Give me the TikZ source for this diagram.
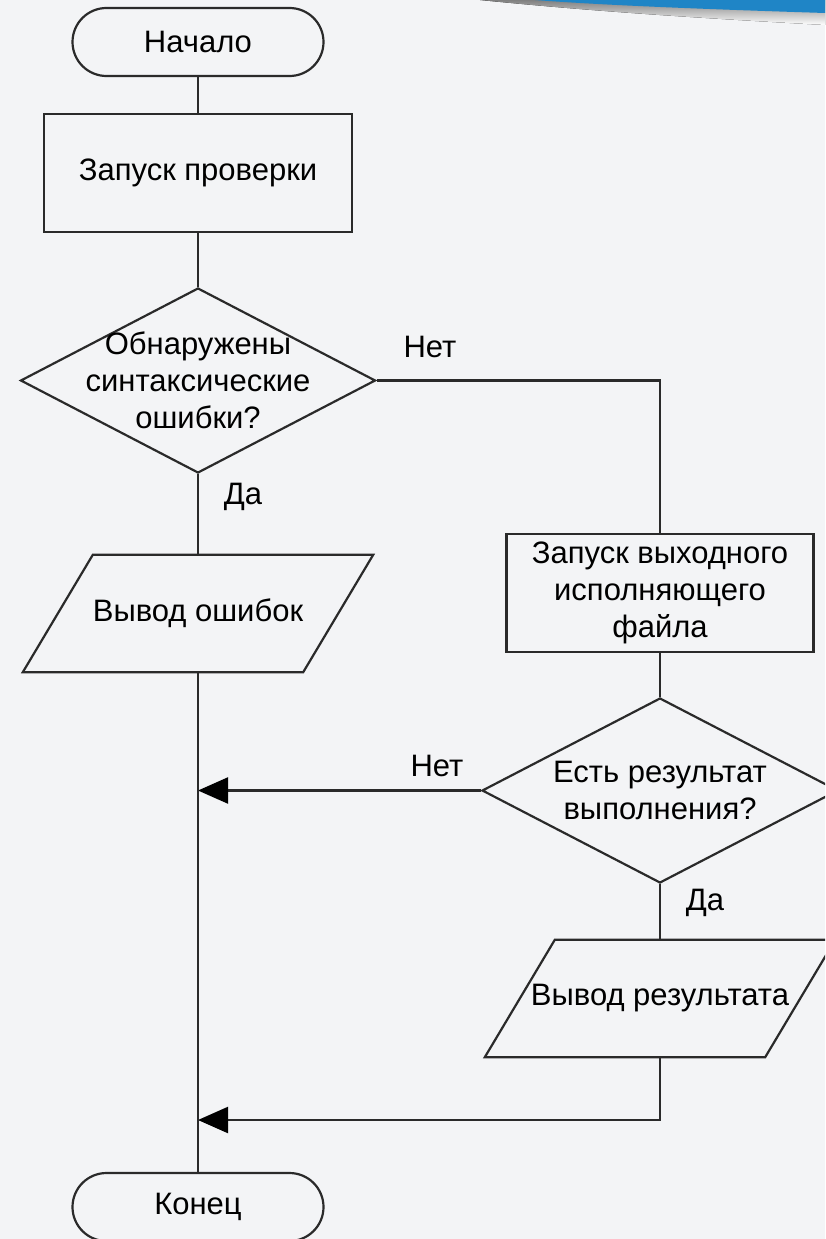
\documentclass[tikz,border=0pt]{standalone}
\usepackage{fontspec}
\setmainfont{Liberation Sans}
\usetikzlibrary{shapes.geometric,arrows.meta,calc}
\definecolor{bg}{HTML}{F3F4F6}
\definecolor{ln}{HTML}{2A2A2A}
\definecolor{band}{HTML}{1F85C6}
\definecolor{shade}{HTML}{DFE0E3}
\begin{document}
\begin{tikzpicture}[x=1pt,y=-1pt,
  every node/.style={font=\fontsize{31}{37}\selectfont, text=black},
  line/.style={draw=ln, line width=2.2pt},
  term/.style={line, rectangle, rounded corners=34pt, minimum width=251pt, minimum height=68pt, inner sep=0pt},
  proc/.style={line, rectangle, minimum height=118pt, inner sep=0pt, align=center},
  dec/.style={line, diamond, inner sep=0pt, minimum height=185pt},
  io/.style={rectangle, minimum width=280pt, minimum height=117pt, inner sep=0pt},
  iobox/.style={line, line join=miter},
  arr/.style={line, -{Triangle[length=30pt,width=26pt,color=black]}},
  lbl/.style={inner sep=0pt}
]
\useasboundingbox (0,0) rectangle (825,1239);
\clip (0,0) rectangle (825,1239);
\fill[bg] (0,0) rectangle (825,1239);
\fill[shade] (480,0) .. controls (600,12) and (700,18) .. (825,25) -- (825,0) -- cycle;
\fill[band] (535,0) .. controls (600,5) and (700,9) .. (825,13) -- (825,0) -- cycle;

% nodes
\node[term] (st) at (198,42) {Начало};
\node[proc, minimum width=308pt] (chk) at (198,173) {Запуск проверки};
\node[dec, minimum width=355pt] (d1) at (198,380.5) {};
\node[align=center] (d1t) at (d1.center) {Обнаружены\\синтаксические\\ошибки?};
\node[io] (o1) at (198,613.5) {Вывод ошибок};
\draw[iobox] ($(o1.north west)+(35,0)$) -- ($(o1.north east)+(35,0)$) -- ($(o1.south east)+(-35,0)$) -- ($(o1.south west)+(-35,0)$) -- cycle;
\node[proc, minimum width=307pt] (run) at (660,593) {Запуск выходного\\исполняющего\\файла};
\node[dec, minimum width=356pt] (d2) at (660,790.5) {};
\node[align=center] (d2t) at (d2.center) {Есть результат\\выполнения?};
\node[io] (o2) at (660,998.5) {Вывод результата};
\draw[iobox] ($(o2.north west)+(35,0)$) -- ($(o2.north east)+(35,0)$) -- ($(o2.south east)+(-35,0)$) -- ($(o2.south west)+(-35,0)$) -- cycle;
\node[term] (en) at (198,1207) {Конец};
\coordinate (j1) at (198,790.5);
\coordinate (j2) at (198,1120);

% connectors
\draw[line] (st) -- (chk);
\draw[line] (chk) -- (d1);
\draw[line] (d1) -- (o1.north);
\draw[line] (d1.east) -| (run.north);
\draw[line] (run) -- (d2);
\draw[line] (d2) -- (o2.north);
\draw[arr] (d2.west) -- (j1);
\draw[arr] (o2.south) |- (j2);
\draw[line] (o1.south) -- (en.north);

% labels
\node[lbl] (l1) at (430,347) {Нет};
\node[lbl] (l2) at (243,497) {Да};
\node[lbl] (l3) at (437,766) {Нет};
\node[lbl] (l4) at (705,903) {Да};
\end{tikzpicture}
\end{document}
